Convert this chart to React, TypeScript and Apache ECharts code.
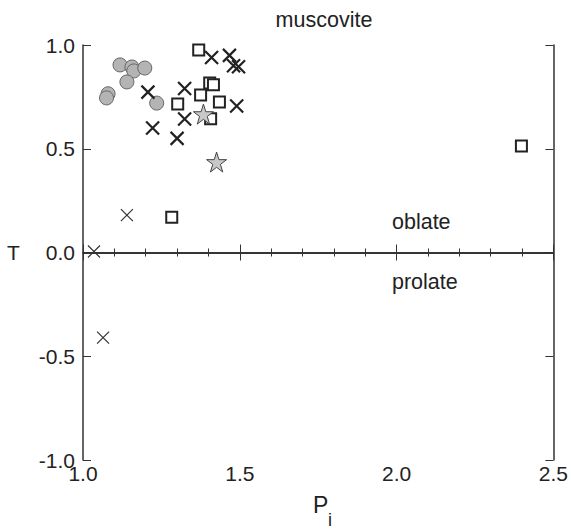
import React, { useEffect, useRef } from "react";
import * as echarts from "echarts";

// [Pi, T] pairs
const circlePts: number[][] = [
  [1.118, 0.904], [1.156, 0.894], [1.162, 0.875], [1.197, 0.889],
  [1.14, 0.822], [1.08, 0.765], [1.075, 0.745], [1.235, 0.72],
];
const squarePts: number[][] = [
  [1.369, 0.976], [1.404, 0.817], [1.416, 0.808], [1.375, 0.759],
  [1.302, 0.716], [1.435, 0.725], [1.407, 0.645], [1.283, 0.17], [2.398, 0.513],
];
const crossPts: number[][] = [
  [1.41, 0.94], [1.467, 0.95], [1.48, 0.9], [1.496, 0.895], [1.207, 0.773],
  [1.324, 0.79], [1.324, 0.643], [1.222, 0.6], [1.3, 0.55], [1.49, 0.706],
];
const crossThinPts: number[][] = [
  [1.14, 0.18], [1.035, 0.005], [1.064, -0.41],
];
const starPts: number[][] = [
  [1.384, 0.667], [1.426, 0.436],
];
const xTicks = [1.0, 1.5, 2.0, 2.5];
const yTicks = [-1.0, -0.5, 0.0, 0.5, 1.0];

const FONT = "Liberation Sans";
const STAR = "path://M50,0L61.2,34.5L97.6,34.5L68.2,55.9L79.4,90.5L50,69.1L20.6,90.5L31.8,55.9L2.4,34.5L38.8,34.5Z";
const CROSS = "path://M0,0L10,10M10,0L0,10";

export default function App() {
  const ref = useRef<HTMLDivElement>(null);
  useEffect(() => {
    document.body.style.margin = "0";
    const chart = echarts.init(ref.current!, null, { renderer: "svg" });
    const axisLine = { show: true, lineStyle: { color: "#333", width: 1.5 } };
    const labelFmt = (v: number) => v.toFixed(1);
    chart.setOption({
      animation: false,
      backgroundColor: "#fff",
      title: {
        text: "muscovite",
        left: 319,
        textAlign: "center",
        top: 4,
        textStyle: { fontFamily: FONT, fontSize: 21.5, fontWeight: "normal", color: "#222" },
      },
      grid: { left: 83, top: 45, width: 472, height: 415 },
      xAxis: [
        {
          type: "value", position: "bottom", min: 1, max: 2.5, interval: 0.5,
          axisLine, splitLine: { show: false },
          axisTick: { inside: true, length: 8, lineStyle: { color: "#333", width: 1 } },
          minorTick: { show: true, splitNumber: 5, length: 4, lineStyle: { color: "#333", width: 1 } },
          axisLabel: { formatter: labelFmt, fontFamily: FONT, fontSize: 21, color: "#222", margin: 3, showMinLabel: true, showMaxLabel: true, customValues: xTicks },
        },
        {
          type: "value", position: "top", min: 1, max: 2.5, interval: 0.5,
          axisLine, splitLine: { show: false },
          axisTick: { inside: true, length: 8, lineStyle: { color: "#333", width: 1 } },
          minorTick: { show: true, splitNumber: 5, length: 4, lineStyle: { color: "#333", width: 1 } },
          axisLabel: { show: false },
        },
      ],
      yAxis: [
        {
          type: "value", position: "left", min: -1, max: 1, interval: 0.5,
          axisLine, splitLine: { show: false },
          axisTick: { inside: true, length: 8, lineStyle: { color: "#333", width: 1 } },
          axisLabel: { formatter: labelFmt, fontFamily: FONT, fontSize: 21, color: "#222", margin: 8, customValues: yTicks },
        },
        {
          type: "value", position: "right", min: -1, max: 1, interval: 0.5,
          axisLine, splitLine: { show: false },
          axisTick: { inside: true, length: 8, lineStyle: { color: "#333", width: 1 } },
          axisLabel: { show: false },
        },
      ],
      series: [
        {
          type: "scatter", data: circlePts, symbol: "circle", symbolSize: 14,
          itemStyle: { color: "#b4b4b4", borderColor: "#666", borderWidth: 1, opacity: 1 },
          markLine: {
            silent: true, symbol: ["none", "none"], label: { show: false },
            lineStyle: { color: "#333", width: 1.5, type: "solid" },
            data: [{ yAxis: 0 }],
          },
        },
        {
          type: "scatter", data: crossThinPts, symbol: CROSS, symbolSize: 12,
          itemStyle: { color: "none", borderColor: "#333", borderWidth: 1.2, opacity: 1 },
        },
        {
          type: "scatter", data: crossPts, symbol: CROSS, symbolSize: 13,
          itemStyle: { color: "none", borderColor: "#222", borderWidth: 2.2, opacity: 1 },
        },
        {
          type: "scatter", data: squarePts, symbol: "rect", symbolSize: 11,
          itemStyle: { color: "#fff", borderColor: "#222", borderWidth: 2, opacity: 1 },
        },
        {
          type: "scatter", data: starPts, symbol: STAR, symbolSize: 20,
          itemStyle: { color: "#c8c8c8", borderColor: "#444", borderWidth: 1, opacity: 1 },
        },
      ],
      graphic: [
        { type: "text", left: 392, top: 211, style: { text: "oblate", fontFamily: FONT, fontSize: 21.5, fill: "#222" } },
        { type: "text", left: 392, top: 271, style: { text: "prolate", fontFamily: FONT, fontSize: 21.5, fill: "#222" } },
        { type: "text", left: 7, top: 242, style: { text: "T", fontFamily: FONT, fontSize: 21, fill: "#222" } },
        { type: "text", left: 313, top: 493, style: { text: "P", fontFamily: FONT, fontSize: 23, fill: "#222" } },
        { type: "text", left: 328, top: 511, style: { text: "i", fontFamily: FONT, fontSize: 18, fill: "#222" } },
      ],
    });
    return () => chart.dispose();
  }, []);
  return <div ref={ref} style={{ width: 571, height: 529 }} />;
}
